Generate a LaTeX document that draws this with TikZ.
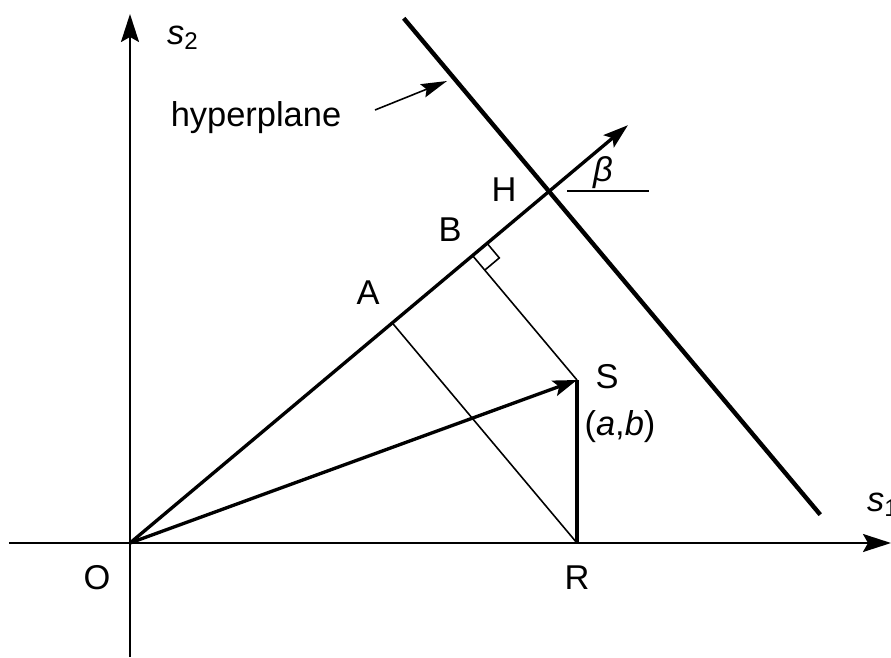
\documentclass[tikz,border=0pt]{standalone}
\usepackage{fontspec}
\setmainfont{Liberation Sans}
\usetikzlibrary{calc,arrows.meta}
\begin{document}
\begin{tikzpicture}[
  axis/.style={line width=0.6pt, -{Stealth[length=2.8mm,width=1.8mm,inset=0.5mm]}},
  heavy/.style={line width=0.95pt},
  light/.style={line width=0.45pt},
  lbl/.style={font=\fontsize{9.8}{12}\selectfont, inner sep=1pt}
]
  \useasboundingbox (-1.30,-1.14) rectangle (7.61,5.43);
  % points of the construction
  \coordinate (O) at (0,0);
  \coordinate (S) at (4.47,1.63);
  \coordinate (R) at (4.47,0);
  \coordinate (H) at (40:5.47);
  \coordinate (tip) at (40:6.50);
  \coordinate (A) at ($(O)!(R)!(tip)$);
  \coordinate (B) at ($(O)!(S)!(tip)$);
  \coordinate (hpstart) at ($(H)+(130:2.26)$);
  \coordinate (hpend) at ($(H)+(-50:4.22)$);
  % axes
  \coordinate (s1start) at (-1.21,0);
  \coordinate (s1end) at (7.61,0);
  \coordinate (s2start) at (0,-1.14);
  \coordinate (s2end) at (0,5.29);
  \draw[axis] (s1start) -- (s1end);
  \draw[axis] (s2start) -- (s2end);
  % projections
  \draw[light] (R) -- (A);
  \draw[light] (S) -- (B);
  \draw[light] ($(B)!0.19cm!(tip)$) -- ++(-50:0.19) -- ($(B)!0.19cm!(S)$);
  % vectors
  \draw[heavy, -{Stealth[length=2.5mm,width=1.6mm,inset=0.5mm]}] (O) -- (tip);
  \draw[heavy, -{Stealth[length=2.4mm,width=1.6mm,inset=0.5mm]}] (O) -- (S);
  \draw[heavy] (S) -- (R);
  % hyperplane
  \draw[line width=1.25pt] (hpstart) -- (hpend);
  \node[lbl] (hplabel) at (1.26,4.25) {hyperplane};
  \coordinate (hparrow1) at (2.45,4.33);
  \coordinate (hparrow2) at (3.17,4.62);
  \draw[light, -{Stealth[length=2.6mm,width=1.4mm,inset=0.4mm]}] (hparrow1) -- (hparrow2);
  % angle beta
  \coordinate (beta1) at ($(H)+(0.18,0)$);
  \coordinate (beta2) at ($(H)+(1.00,0)$);
  \draw[light, line width=0.6pt] (beta1) -- (beta2);
  \node[lbl] (betalabel) at (4.73,3.70) {\textit{β}};
  % labels
  \node[lbl, anchor=west] (s1label) at (7.33,0.38) {\textit{s}\textsubscript{1}};
  \node[lbl, anchor=west] (s2label) at (0.33,5.05) {\textit{s}\textsubscript{2}};
  \node[lbl] (Olabel) at (-0.33,-0.35) {O};
  \node[lbl] (Rlabel) at (4.47,-0.35) {R};
  \node[lbl] (Slabel) at (4.77,1.66) {S};
  \node[lbl] (ablabel) at (4.90,1.16) {(\textit{a},\textit{b})};
  \node[lbl] (Alabel) at (2.38,2.50) {A};
  \node[lbl] (Blabel) at (3.20,3.13) {B};
  \node[lbl] (Hlabel) at (3.74,3.53) {H};
\end{tikzpicture}
\end{document}
